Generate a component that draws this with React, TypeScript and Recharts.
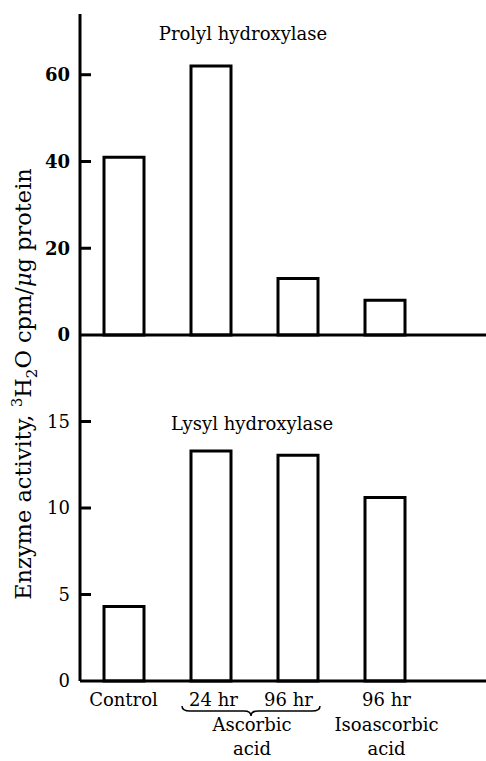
import React from 'react';
import { BarChart, Bar, XAxis, YAxis, ReferenceLine } from 'recharts';

const categories = ['control', 'asc24', 'asc96', 'iso96'];
const prolylValues = [41, 62, 13, 8];
const lysylValues = [4.3, 13.3, 13.05, 10.6];
const prolylTicks = [0, 20, 40, 60];
const lysylTicks = [0, 5, 10, 15];
// label lines under each bar, with a small horizontal nudge
const tickLines: Record<string, { lines: string[]; dx: number }> = {
  control: { lines: ['Control'], dx: 0 },
  asc24: { lines: ['24 hr'], dx: 3 },
  asc96: { lines: ['96 hr'], dx: -9 },
  iso96: { lines: ['96 hr', 'Isoascorbic', 'acid'], dx: 2 },
};
const groupLabel = ['Ascorbic', 'acid'];

const prolylData = categories.map((key, i) => ({ key, value: prolylValues[i] }));
const lysylData = categories.map((key, i) => ({ key, value: lysylValues[i] }));

const FONT = '"DejaVu Serif", serif';
const STEP = 87;
const LINE_GAP = [25, 50, 74];

const YTick = (bold: boolean) => (props: any) => {
  const { x, y, payload } = props;
  return (
    <text
      x={x}
      y={y}
      dy="0.36em"
      textAnchor="end"
      fontFamily={FONT}
      fontSize={18}
      fontWeight={bold ? 'bold' : 'normal'}
      fill="#000"
    >
      {payload.value}
    </text>
  );
};

// short inward tick mark at the left edge of the plot
const InTick = (props: any) => {
  const { x1, y1 } = props;
  return <line x1={x1} x2={x1 + 11} y1={y1} y2={y1} stroke="#000" strokeWidth={3} />;
};

const XTick = (props: any) => {
  const { x, y, payload } = props;
  const info = tickLines[payload.value];
  const cx = x + STEP / 2;
  const y0 = y + 25;
  return (
    <g fontFamily={FONT} fontSize={18} fill="#000">
      {info.lines.map((line, i) => (
        <text key={i} x={x + info.dx} y={y + LINE_GAP[i]} textAnchor="middle">
          {line}
        </text>
      ))}
      {payload.value === 'asc24' && (
        <g>
          <path
            d={`M ${cx - 72} ${y0} Q ${cx - 72} ${y0 + 5} ${cx - 64} ${y0 + 5} H ${cx - 10} Q ${cx - 3} ${y0 + 5} ${cx - 3} ${y0 + 10} Q ${cx - 3} ${y0 + 5} ${cx + 4} ${y0 + 5} H ${cx + 58} Q ${cx + 66} ${y0 + 5} ${cx + 66} ${y0}`}
            fill="none"
            stroke="#000"
            strokeWidth={1.5}
          />
          {groupLabel.map((line, i) => (
            <text key={i} x={cx - 2} y={y + LINE_GAP[i + 1]} textAnchor="middle">
              {line}
            </text>
          ))}
        </g>
      )}
    </g>
  );
};

const axisStroke = { stroke: '#000', strokeWidth: 3 };

export default function App() {
  return (
    <div style={{ position: 'absolute', left: 0, top: 0, width: 486, height: 761, background: '#fff' }}>
      <div style={{ position: 'absolute', left: 0, top: 335 }}>
        <BarChart width={486} height={426} data={lysylData} margin={{ top: 0, right: 0, bottom: 0, left: 0 }}>
          <XAxis
            dataKey="key"
            height={80}
            tickSize={0}
            tickMargin={0}
            tickLine={false}
            axisLine={axisStroke}
            padding={{ left: 0, right: 58 }}
            interval={0}
            tick={XTick}
          />
          <YAxis
            width={80}
            domain={[0, 20]}
            ticks={lysylTicks}
            interval={0}
            tickSize={0}
            tickMargin={10}
            tickLine={false}
            axisLine={axisStroke}
            tick={YTick(false)}
          />
          {lysylTicks.slice(1).map((t) => (
            <ReferenceLine key={t} y={t} shape={InTick} />
          ))}
          <Bar dataKey="value" fill="#fff" stroke="#000" strokeWidth={3} barSize={40} isAnimationActive={false} />
        </BarChart>
      </div>
      <div style={{ position: 'absolute', left: 0, top: 0 }}>
        <BarChart width={486} height={346} data={prolylData} margin={{ top: 14, right: 0, bottom: 10, left: 0 }}>
          <XAxis
            dataKey="key"
            height={1}
            tick={false}
            tickLine={false}
            axisLine={axisStroke}
            padding={{ left: 0, right: 58 }}
          />
          <YAxis
            width={80}
            domain={[0, 74]}
            ticks={prolylTicks}
            interval={0}
            tickSize={0}
            tickMargin={10}
            tickLine={false}
            axisLine={axisStroke}
            tick={YTick(true)}
          />
          {prolylTicks.slice(1).map((t) => (
            <ReferenceLine key={t} y={t} shape={InTick} />
          ))}
          <Bar dataKey="value" fill="#fff" stroke="#000" strokeWidth={3} barSize={40} isAnimationActive={false} />
        </BarChart>
      </div>
      <svg
        width={486}
        height={761}
        style={{ position: 'absolute', left: 0, top: 0, pointerEvents: 'none' }}
        fontFamily={FONT}
        fill="#000"
      >
        <text x={243} y={40} textAnchor="middle" fontSize={18}>
          Prolyl hydroxylase
        </text>
        <text x={252} y={430} textAnchor="middle" fontSize={18}>
          Lysyl hydroxylase
        </text>
        <text x={31} y={384} textAnchor="middle" fontSize={22.5} transform="rotate(-90 31 384)">
          Enzyme activity,{' '}
          <tspan fontSize={15} dy={-9}>3</tspan>
          <tspan dy={9}>H</tspan>
          <tspan fontSize={15} dy={6}>2</tspan>
          <tspan dy={-6}>O cpm/</tspan>
          <tspan fontStyle="italic">μ</tspan>
          <tspan>g protein</tspan>
        </text>
      </svg>
    </div>
  );
}
